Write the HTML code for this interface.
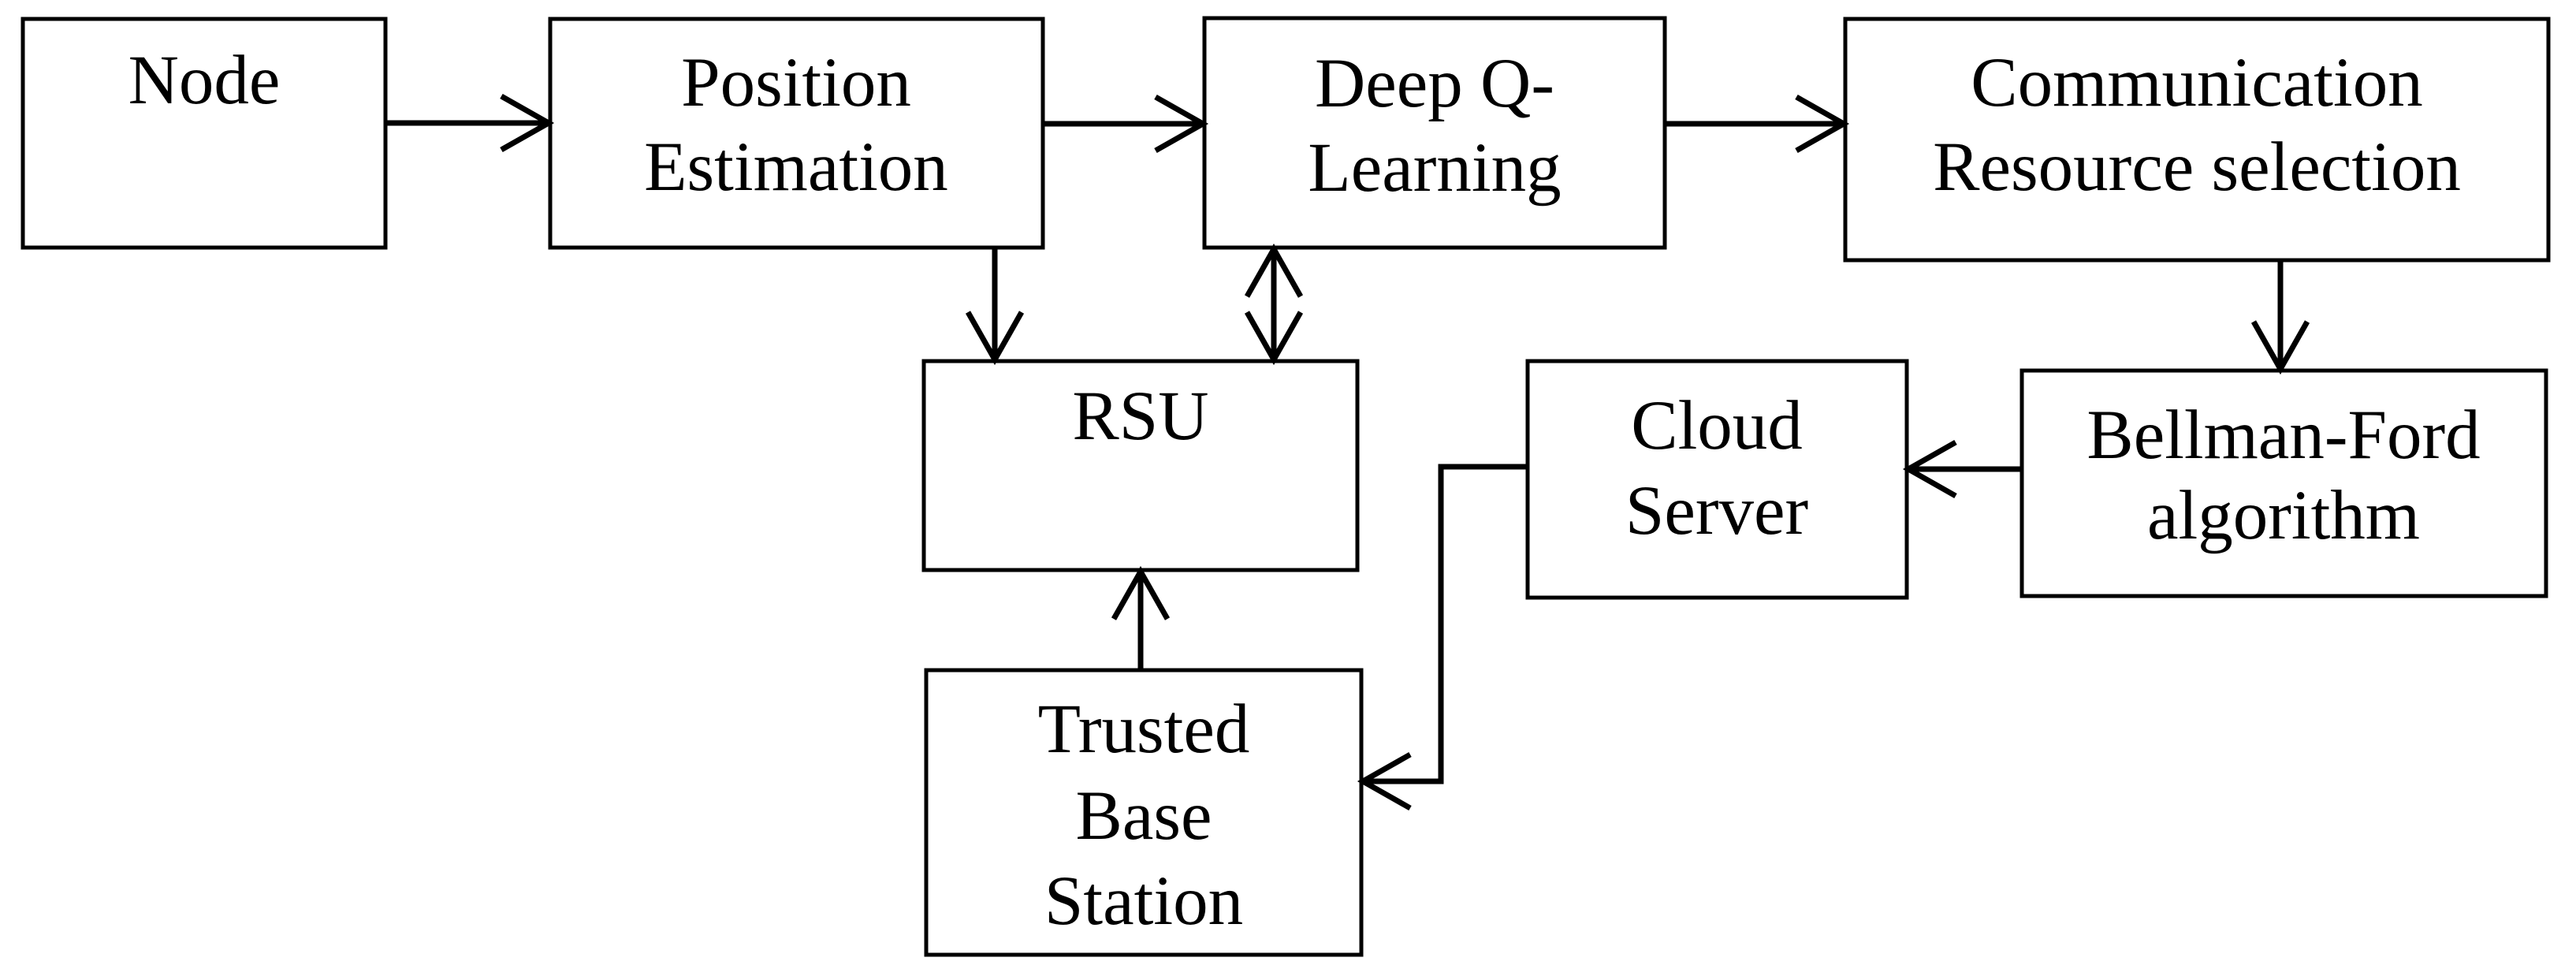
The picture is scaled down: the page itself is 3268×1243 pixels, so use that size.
<!DOCTYPE html>
<html><head><meta charset="utf-8"><style>
html,body{margin:0;padding:0;background:#fff;}
svg{display:block;}
text{font-family:"Liberation Serif",serif;font-size:89px;fill:#000;text-anchor:middle;}
</style></head><body>
<svg width="3268" height="1243" viewBox="0 0 3268 1243" xmlns="http://www.w3.org/2000/svg">
<g fill="#fff" stroke="#000" stroke-width="5">
<rect x="29" y="24" width="460" height="290"/>
<rect x="698" y="24" width="625" height="290"/>
<rect x="1528" y="23" width="584" height="291"/>
<rect x="2341" y="24" width="892" height="306"/>
<rect x="1172" y="458" width="550" height="265"/>
<rect x="1938" y="458" width="481" height="300"/>
<rect x="2565" y="470" width="665" height="286"/>
<rect x="1175" y="850" width="552" height="361"/>
</g>
<g fill="none" stroke="#000" stroke-width="7">
<line x1="489" y1="156" x2="696" y2="156"/>
<polyline points="636,122 696,156 636,190"/>
<line x1="1323" y1="157" x2="1526" y2="157"/>
<polyline points="1466,123 1526,157 1466,191"/>
<line x1="2112" y1="157" x2="2339" y2="157"/>
<polyline points="2279,123 2339,157 2279,191"/>
<line x1="1262" y1="314" x2="1262" y2="456"/>
<polyline points="1228,396 1262,456 1296,396"/>
<line x1="1616" y1="316" x2="1616" y2="456"/>
<polyline points="1582,376 1616,316 1650,376"/>
<polyline points="1582,396 1616,456 1650,396"/>
<line x1="1447" y1="850" x2="1447" y2="725"/>
<polyline points="1413,785 1447,725 1481,785"/>
<line x1="2893" y1="330" x2="2893" y2="468"/>
<polyline points="2859,408 2893,468 2927,408"/>
<line x1="2565" y1="595" x2="2421" y2="595"/>
<polyline points="2481,561 2421,595 2481,629"/>
<polyline points="1938,592 1828,592 1828,991 1729,991"/>
<polyline points="1789,957 1729,991 1789,1025"/>
</g>
<text x="259" y="131">Node</text>
<text x="1010" y="134">Position</text>
<text x="1010" y="241">Estimation</text>
<text x="1820" y="135">Deep Q-</text>
<text x="1820" y="242">Learning</text>
<text x="2787" y="134">Communication</text>
<text x="2787" y="241">Resource selection</text>
<text x="1447" y="557">RSU</text>
<text x="2178" y="569">Cloud</text>
<text x="2178" y="677">Server</text>
<text x="2897" y="581">Bellman-Ford</text>
<text x="2897" y="683">algorithm</text>
<text x="1451" y="954">Trusted</text>
<text x="1451" y="1064">Base</text>
<text x="1451" y="1172">Station</text>
</svg>
</body></html>
